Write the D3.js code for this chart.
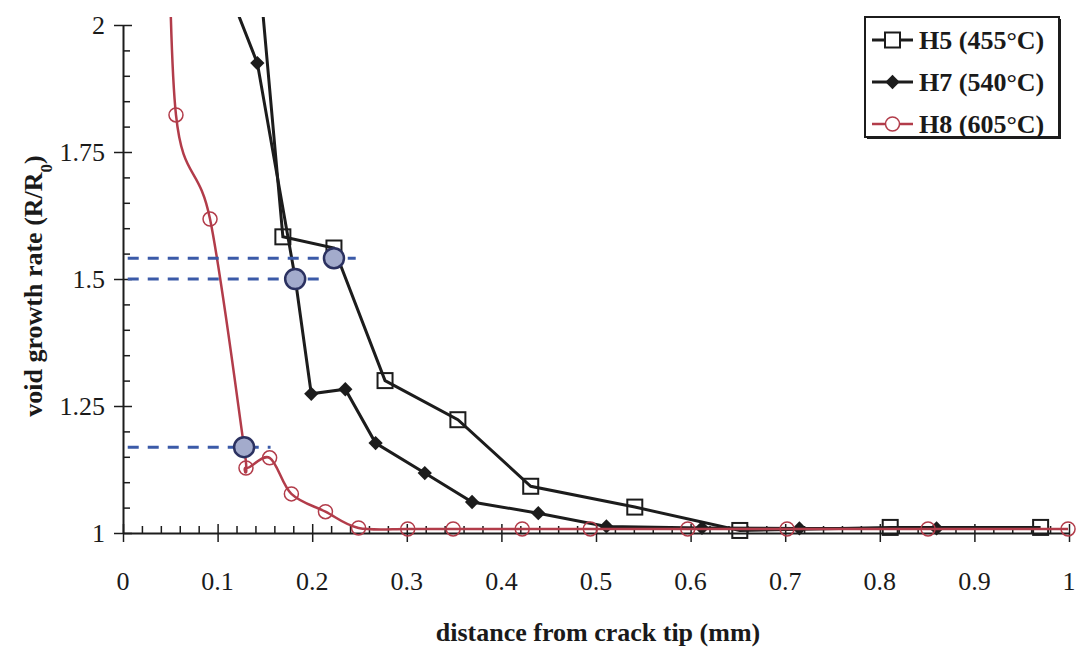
<!DOCTYPE html>
<meta charset="utf-8">
<html>
<head>
    <title>void growth rate vs distance from crack tip</title>
    <script src="https://cdn.jsdelivr.net/npm/d3@7"></script>
    <style>
        body { margin: 0; background: #fff; }
        text { font-family: "Liberation Serif", "Times New Roman", serif; fill: #1a1a1a; }
        .tick-label { font-size: 26px; }
        .axis-title { font-size: 26px; font-weight: bold; }
        .legend text { font-size: 26px; font-weight: bold; }
    </style>
</head>
<body>
<script>
    // values (first points lie above the plotted range and get clipped)
    var h5X = [0.125, 0.169, 0.223, 0.277, 0.354, 0.431, 0.541, 0.652, 0.811, 0.970];
    var h5Y = [2.50, 1.583, 1.561, 1.300, 1.223, 1.092, 1.051, 1.005, 1.011, 1.011];

    var h7X = [0.063, 0.142, 0.182, 0.199, 0.235, 0.267, 0.319, 0.369, 0.439, 0.511, 0.612, 0.715, 0.860];
    var h7Y = [2.30, 1.925, 1.502, 1.274, 1.283, 1.177, 1.118, 1.061, 1.039, 1.013, 1.010, 1.009, 1.009];

    var h8X = [0.047, 0.056, 0.092, 0.128, 0.130, 0.155, 0.178, 0.214, 0.249, 0.301, 0.349, 0.422, 0.494, 0.597, 0.702, 0.851, 0.999];
    var h8Y = [2.40, 1.823, 1.618, 1.169, 1.128, 1.148, 1.077, 1.042, 1.010, 1.008, 1.008, 1.008, 1.008, 1.008, 1.008, 1.008, 1.008];

    // highlighted points with dashed read-off lines to the y axis
    var markX = [0.223, 0.182, 0.128];
    var markY = [1.541, 1.500, 1.169];
    var dashStart = [0.005, 0.005, 0.005];
    var dashEnd = [0.246, 0.216, 0.156];

    var xTicks = [0, 0.1, 0.2, 0.3, 0.4, 0.5, 0.6, 0.7, 0.8, 0.9, 1];
    var yTicks = [1, 1.25, 1.5, 1.75, 2];
    var legendNames = ["H5 (455°C)", "H7 (540°C)", "H8 (605°C)"];

    var W = 1080, H = 649;
    var black = "#1c1c1c", red = "#b23c4a", blue = "#3b5aa8";

    var svg = d3.select("body").append("svg")
        .attr("width", W).attr("height", H);

    var x = d3.scaleLinear().domain([0, 1]).range([123, 1069]);
    var y = d3.scaleLinear().domain([1, 2]).range([533, 25]);

    svg.append("defs").append("clipPath").attr("id", "plot")
        .append("rect").attr("x", 110).attr("y", 17).attr("width", 970).attr("height", 540);

    // y axis: major ticks cross the axis, minor ticks inside
    var yAxis = svg.append("g").attr("transform", "translate(" + x(0) + ",0)");
    yAxis.call(d3.axisLeft(y).tickValues(d3.range(1, 2.001, 0.05)).tickSize(0).tickFormat(""));
    yAxis.select(".domain").attr("stroke", black).attr("stroke-width", 2);
    yAxis.selectAll(".tick line").attr("x1", 0).attr("x2", 7).attr("stroke", black).attr("stroke-width", 1.5);
    yAxis.selectAll(".tick").filter(function (d) { return yTicks.some(function (t) { return Math.abs(t - d) < 1e-6; }); })
        .select("line").attr("x1", -9).attr("x2", 9);

    svg.append("g").selectAll("text").data(yTicks).join("text")
        .attr("class", "tick-label")
        .attr("x", 105).attr("y", function (d) { return y(d) + 9; })
        .attr("text-anchor", "end")
        .text(function (d) { return d3.format("")(d); });

    // x axis
    var xAxis = svg.append("g").attr("transform", "translate(0," + y(1) + ")");
    xAxis.call(d3.axisBottom(x).tickValues(d3.range(0, 1.001, 0.02)).tickSize(0).tickFormat(""));
    xAxis.select(".domain").attr("stroke", black).attr("stroke-width", 2);
    xAxis.selectAll(".tick line").attr("y1", 0).attr("y2", -7).attr("stroke", black).attr("stroke-width", 1.5);
    xAxis.selectAll(".tick").filter(function (d) { return xTicks.some(function (t) { return Math.abs(t - d) < 1e-6; }); })
        .select("line").attr("y1", -9).attr("y2", 9);

    svg.append("g").selectAll("text").data(xTicks).join("text")
        .attr("class", "tick-label")
        .attr("x", function (d) { return x(d); }).attr("y", 590)
        .attr("text-anchor", "middle")
        .text(function (d) { return d3.format("")(d); });

    // axis titles
    svg.append("text").attr("class", "axis-title")
        .attr("transform", "translate(42,286) rotate(-90)")
        .attr("text-anchor", "middle")
        .html('void growth rate (R/R<tspan baseline-shift="sub" font-size="17px">0</tspan>)');

    svg.append("text").attr("class", "axis-title")
        .attr("x", 598).attr("y", 641)
        .attr("text-anchor", "middle")
        .text("distance from crack tip (mm)");

    // series
    var plot = svg.append("g").attr("clip-path", "url(#plot)");
    function pts(xs, ys) { return xs.map(function (v, i) { return [v, ys[i]]; }); }
    var straight = d3.line().x(function (d) { return x(d[0]); }).y(function (d) { return y(d[1]); });
    var smooth = d3.line().x(function (d) { return x(d[0]); }).y(function (d) { return y(d[1]); })
        .curve(d3.curveCardinal.tension(0));

    var h5 = pts(h5X, h5Y), h7 = pts(h7X, h7Y), h8 = pts(h8X, h8Y);

    plot.append("path").datum(h5).attr("d", straight)
        .attr("fill", "none").attr("stroke", black).attr("stroke-width", 3);
    plot.selectAll(".sq").data(h5).join("rect").attr("class", "sq")
        .attr("x", function (d) { return x(d[0]) - 7.5; }).attr("y", function (d) { return y(d[1]) - 7.5; })
        .attr("width", 15).attr("height", 15)
        .attr("fill", "#fff").attr("fill-opacity", 0).attr("stroke", black).attr("stroke-width", 2);

    plot.append("path").datum(h7).attr("d", straight)
        .attr("fill", "none").attr("stroke", black).attr("stroke-width", 3);
    var diamond = d3.symbol(d3.symbolDiamond2, 130);
    plot.selectAll(".dm").data(h7).join("path").attr("class", "dm")
        .attr("d", diamond)
        .attr("transform", function (d) { return "translate(" + x(d[0]) + "," + y(d[1]) + ")"; })
        .attr("fill", black);

    plot.append("path").datum(h8).attr("d", smooth)
        .attr("fill", "none").attr("stroke", red).attr("stroke-width", 2.5);
    plot.selectAll(".ci").data(h8).join("circle").attr("class", "ci")
        .attr("cx", function (d) { return x(d[0]); }).attr("cy", function (d) { return y(d[1]); })
        .attr("r", 7).attr("fill", "none").attr("stroke", red).attr("stroke-width", 1.5);

    // dashed read-off lines and highlighted points
    svg.append("g").selectAll("line").data(markY).join("line")
        .attr("x1", function (d, i) { return x(dashStart[i]); })
        .attr("x2", function (d, i) { return x(dashEnd[i]); })
        .attr("y1", function (d) { return y(d); }).attr("y2", function (d) { return y(d); })
        .attr("stroke", blue).attr("stroke-width", 3).attr("stroke-dasharray", "11,9");

    svg.append("g").selectAll("circle").data(markY).join("circle")
        .attr("cx", function (d, i) { return x(markX[i]); }).attr("cy", function (d) { return y(d); })
        .attr("r", 10).attr("fill", "#a3abcc").attr("stroke", "#2b3160").attr("stroke-width", 2.5);

    // legend
    var legend = svg.append("g").attr("class", "legend");
    legend.append("rect").attr("x", 867).attr("y", 19).attr("width", 194).attr("height", 120).attr("fill", black);
    legend.append("rect").attr("x", 865).attr("y", 17).attr("width", 194).attr("height", 120)
        .attr("fill", "#fff").attr("stroke", black).attr("stroke-width", 2);

    var rowY = function (i) { return 40 + i * 42; };
    legendNames.forEach(function (name, i) {
        var col = i === 2 ? red : black;
        legend.append("line").attr("x1", 872).attr("x2", 913).attr("y1", rowY(i)).attr("y2", rowY(i))
            .attr("stroke", col).attr("stroke-width", i === 2 ? 2.5 : 3);
        legend.append("text").attr("x", 919).attr("y", rowY(i) + 9).text(name);
    });
    legend.append("rect").attr("x", 885).attr("y", rowY(0) - 7.5).attr("width", 15).attr("height", 15)
        .attr("fill", "#fff").attr("stroke", black).attr("stroke-width", 2);
    legend.append("path").attr("d", diamond).attr("transform", "translate(892.5," + rowY(1) + ")").attr("fill", black);
    legend.append("circle").attr("cx", 892.5).attr("cy", rowY(2)).attr("r", 7)
        .attr("fill", "#fff").attr("stroke", red).attr("stroke-width", 1.5);
</script>
</body>
</html>
